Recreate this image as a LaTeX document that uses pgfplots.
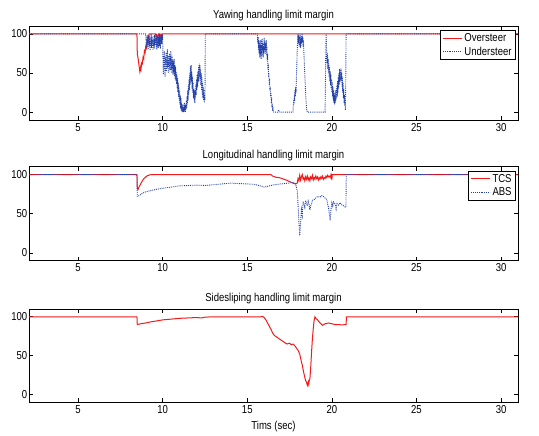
\documentclass[border=0pt]{standalone}
\usepackage{fontspec}
\setmainfont{Liberation Sans}[FakeStretch=0.83]
\usepackage{pgfplots}
\pgfplotsset{compat=1.18}

\definecolor{ovred}{RGB}{245,25,25}
\definecolor{usblue}{RGB}{35,65,170}

\newcommand{\lblfont}{\fontsize{11.5}{13}\selectfont}

\pgfplotsset{
  margin/.style={
    scale only axis, width=489pt, height=94pt,
    xmin=2.1, xmax=31, ymin=-10, ymax=110,
    xtick={5,10,...,30}, ytick={0,50,100},
    tick align=inside, major tick length=4pt,
    tick style={black, line width=0.6pt},
    axis line style={black, line width=0.8pt},
    tick label style={font=\lblfont},
    yticklabel style={inner xsep=1.5pt},
    xticklabel style={inner ysep=3pt},
    /pgf/number format/assume math mode=true,
    title style={font=\lblfont, yshift=-4pt},
    label style={font=\lblfont},
    legend style={font=\lblfont, draw=black, line width=0.8pt,
      at={(rel axis cs:1,1)}, anchor=north east, xshift=-2pt, yshift=-4pt,
      inner xsep=2pt, inner ysep=1pt, row sep=0pt,
      nodes={inner ysep=2pt, inner xsep=2pt}},
    legend cell align=left,
    legend image code/.code={\draw[#1] (0pt,0pt) -- (19pt,0pt);},
  },
  over/.style={ovred, line width=1pt},
  under/.style={usblue, line width=0.9pt, densely dotted},
}

\begin{document}
\begin{tikzpicture}
\useasboundingbox (0,0) rectangle (539pt,-436pt);

% ---- yawing margin ----
\begin{axis}[margin, at={(29pt,-26pt)}, anchor=north west,
  title={Yawing handling limit margin}]
\addplot[over] coordinates {
(2.1,100) (8.48,100) (8.5,75) (8.55,68) (8.6,60) (8.65,52) (8.7,58) (8.72,55)
(8.76,63) (8.8,62) (8.84,70) (8.88,68) (8.92,78) (8.96,76) (9.0,84) (9.04,82)
(9.08,90) (9.12,88) (9.16,96) (9.2,100) (9.6,100) (9.62,92) (9.66,97) (9.7,94)
(9.74,100) (9.8,100) (9.84,93) (9.88,98) (9.92,95) (9.96,100) (31,100)};
\addlegendentry{Oversteer}
\addplot[under] coordinates {
(2.1,100) (9.00,100)
(9.02,86) (9.04,97) (9.06,82) (9.08,94) (9.10,88) (9.12,99) (9.14,80) (9.16,92)
(9.18,85) (9.20,98) (9.22,83) (9.24,95) (9.26,79) (9.28,91) (9.30,86) (9.32,100)
(9.34,82) (9.36,96) (9.38,87) (9.40,93) (9.42,80) (9.44,97) (9.46,84) (9.48,92)
(9.50,81) (9.52,99) (9.54,85) (9.56,94) (9.58,88) (9.60,100) (9.62,83) (9.64,95)
(9.66,80) (9.68,92) (9.70,86) (9.72,98) (9.74,82) (9.76,96) (9.78,88) (9.80,100)
(9.82,84) (9.84,97) (9.86,81) (9.88,93) (9.90,89) (9.92,100) (9.94,87) (9.96,98)
(9.98,92) (10.00,100)
(10.02,62) (10.04,48) (10.06,72) (10.08,55) (10.10,78) (10.12,58) (10.14,45)
(10.16,70) (10.18,60) (10.20,76) (10.22,52) (10.24,68) (10.26,57) (10.28,80)
(10.30,55) (10.32,72) (10.34,50) (10.36,66) (10.38,58) (10.40,75) (10.42,52)
(10.44,70) (10.46,60) (10.48,78) (10.50,54) (10.52,68) (10.54,50) (10.56,72)
(10.58,56) (10.60,66) (10.62,48) (10.64,64) (10.66,52) (10.68,68) (10.70,46)
(10.72,60) (10.74,42) (10.76,58) (10.78,40) (10.80,52) (10.82,36) (10.84,48)
(10.86,30) (10.88,44) (10.90,26) (10.92,38) (10.94,20) (10.96,32) (10.98,15)
(11.00,28) (11.02,10) (11.04,22) (11.06,5) (11.08,18) (11.10,2) (11.12,12)
(11.14,0) (11.16,8) (11.18,0) (11.20,10) (11.22,0) (11.24,6) (11.26,0)
(11.28,12) (11.30,2) (11.32,8) (11.34,0) (11.36,10) (11.38,3) (11.40,15)
(11.42,5) (11.44,20) (11.46,10) (11.48,28) (11.50,15) (11.52,35) (11.54,22)
(11.56,42) (11.58,28) (11.60,50) (11.62,35) (11.64,58) (11.66,40) (11.68,60)
(11.70,38) (11.72,52) (11.74,30) (11.76,45) (11.78,25) (11.80,38) (11.82,18)
(11.84,30) (11.86,15) (11.88,26) (11.90,12) (11.92,28) (11.94,18) (11.96,35)
(11.98,22) (12.00,42) (12.02,28) (12.04,48) (12.06,32) (12.08,52) (12.10,38)
(12.12,58) (12.14,40) (12.16,62) (12.18,45) (12.20,60) (12.22,42) (12.24,55)
(12.26,35) (12.28,50) (12.30,28) (12.32,45) (12.34,22) (12.36,38) (12.38,18)
(12.40,32) (12.42,15) (12.44,28) (12.46,12) (12.48,22) (12.50,15) (12.52,100)
(15.60,100) (15.62,88) (15.64,96) (15.66,80) (15.68,92) (15.70,75) (15.72,90)
(15.74,70) (15.76,86) (15.78,74) (15.80,92) (15.82,68) (15.84,85) (15.86,72)
(15.88,94) (15.90,78) (15.92,88) (15.94,70) (15.96,84) (15.98,76) (16.00,95)
(16.02,80) (16.04,90) (16.06,74) (16.08,88) (16.10,78) (16.12,92) (16.14,72)
(16.16,84) (16.18,66) (16.20,74) (16.22,55) (16.24,62) (16.26,45) (16.28,50)
(16.30,35) (16.32,42) (16.34,28) (16.36,32) (16.38,20) (16.40,25) (16.42,12)
(16.44,18) (16.46,6) (16.48,10) (16.50,2) (16.52,4) (16.54,0)
(16.80,0) (16.85,3) (16.90,0) (17.70,0)
(17.72,8) (17.74,15) (17.76,10) (17.78,22) (17.80,14) (17.82,28) (17.84,20)
(17.86,32) (17.88,25) (17.90,40) (17.92,55) (17.94,70) (17.96,85) (17.98,95)
(18.00,100) (18.02,88) (18.04,98) (18.06,84) (18.08,96) (18.10,86) (18.12,100)
(18.14,82) (18.16,94) (18.18,85) (18.20,97) (18.22,88) (18.24,100) (18.26,90)
(18.28,96) (18.30,84) (18.32,92) (18.34,78) (18.36,70) (18.38,58) (18.40,48)
(18.42,38) (18.44,28) (18.46,20) (18.48,12) (18.50,6) (18.52,2) (18.56,0)
(19.60,0) (19.62,40) (19.64,80) (19.66,100) (19.68,85) (19.70,72) (19.72,62)
(19.74,75) (19.76,55) (19.78,68) (19.80,50) (19.82,62) (19.84,45) (19.86,58)
(19.88,40) (19.90,52) (19.92,35) (19.94,48) (19.96,30) (19.98,42) (20.00,25)
(20.02,38) (20.04,20) (20.06,32) (20.08,15) (20.10,28) (20.12,12) (20.14,25)
(20.16,10) (20.18,22) (20.20,12) (20.22,28) (20.24,15) (20.26,30) (20.28,18)
(20.30,35) (20.32,20) (20.34,40) (20.36,25) (20.38,45) (20.40,30) (20.42,50)
(20.44,35) (20.46,55) (20.48,38) (20.50,52) (20.52,40) (20.54,56) (20.56,42)
(20.58,50) (20.60,32) (20.62,45) (20.64,25) (20.66,38) (20.68,18) (20.70,30)
(20.72,12) (20.74,22) (20.76,8) (20.78,15) (20.80,3) (20.82,40) (20.84,100)
(31,100)};
\addlegendentry{Understeer}
\end{axis}

% ---- longitudinal margin ----
\begin{axis}[margin, at={(29pt,-166.7pt)}, anchor=north west,
  title={Longitudinal handling limit margin}]
\addplot[over] coordinates {
(2.1,100) (8.48,100) (8.5,82) (8.55,81) (8.6,84) (8.7,88) (8.8,92) (8.9,95)
(9.0,97) (9.1,98.5) (9.25,99.6) (9.4,100) (16.4,100) (16.5,98) (16.7,96.5)
(16.9,96) (17.1,94.5) (17.3,93) (17.5,91) (17.7,89) (17.85,88) (17.95,89)
(18.0,95) (18.05,92) (18.1,99) (18.15,93) (18.2,97) (18.25,100) (18.3,94)
(18.35,96) (18.4,92) (18.45,97) (18.5,94) (18.55,98) (18.6,93) (18.65,96)
(18.7,92) (18.75,97) (18.8,95) (18.85,99) (18.9,93) (18.95,96) (19.0,94)
(19.05,98) (19.1,95) (19.15,97) (19.2,93) (19.25,96) (19.3,94) (19.35,97)
(19.4,95) (19.45,98) (19.5,94) (19.55,96) (19.6,95) (19.65,98) (19.7,96)
(19.75,99) (19.8,97) (19.85,98) (19.9,96) (19.95,100) (19.98,97) (20.0,93)
(20.02,100) (31,100)};
\addlegendentry{TCS}
\addplot[under] coordinates {
(2.1,100) (8.48,100) (8.5,72) (8.6,73) (8.8,76) (9.0,78) (9.3,79.5) (9.6,81)
(10,82.5) (10.5,84) (11,85.5) (11.5,86) (12,86.5) (12.5,86) (13,87) (13.5,88)
(14,89) (14.5,88.5) (15,88) (15.4,87.5) (15.7,86) (16,84) (16.3,85.5)
(16.6,87) (17,88) (17.4,89) (17.7,90) (17.85,88) (17.95,80) (18.0,62)
(18.05,40) (18.1,22) (18.15,38) (18.2,55) (18.25,48) (18.3,66) (18.35,62)
(18.4,58) (18.45,67) (18.5,63) (18.55,60) (18.6,66) (18.65,62) (18.7,55)
(18.75,60) (18.8,63) (18.85,67) (18.95,68) (19.05,70) (19.15,72) (19.3,71)
(19.4,73) (19.5,72) (19.6,70) (19.7,68) (19.75,62) (19.8,58) (19.85,50)
(19.9,41) (19.95,56) (20.0,64) (20.05,60) (20.1,65) (20.2,62) (20.25,56)
(20.3,63) (20.4,61) (20.5,64) (20.6,61) (20.7,60) (20.8,58) (20.83,58)
(20.85,100) (31,100)};
\addlegendentry{ABS}
\end{axis}

% ---- sideslip margin ----
\begin{axis}[margin, height=93.3pt, at={(29pt,-309pt)}, anchor=north west,
  title={Sidesliping handling limit margin}, xlabel={Tims (sec)},
  xlabel style={yshift=-1pt}]
\addplot[over] coordinates {
(2.1,100) (8.48,100) (8.5,90) (8.7,91) (9.0,92) (9.3,93.5) (9.6,94.5) (10,96)
(10.5,97) (11,98) (11.5,98.5) (12,99) (12.3,98.5) (12.5,99.5) (13,100)
(15.8,100) (15.9,100.5) (16.0,99) (16.1,96) (16.2,92) (16.3,88) (16.4,84)
(16.5,79) (16.6,76) (16.8,73) (17.0,70) (17.2,67) (17.35,65) (17.5,66)
(17.6,64) (17.7,65) (17.8,63) (17.9,60) (18.0,57) (18.1,52) (18.2,42)
(18.25,38) (18.3,32) (18.35,27) (18.4,22) (18.45,18) (18.5,16) (18.55,12)
(18.6,16) (18.63,13) (18.66,18) (18.7,20) (18.75,35) (18.8,55) (18.85,72)
(18.9,85) (18.95,95) (19.0,100) (19.05,98) (19.15,96) (19.3,92) (19.45,89)
(19.6,91) (19.8,92) (20.0,91) (20.2,90) (20.4,90) (20.6,89.5) (20.8,90)
(20.84,90) (20.86,100) (31,100)};
\end{axis}
\end{tikzpicture}
\end{document}
